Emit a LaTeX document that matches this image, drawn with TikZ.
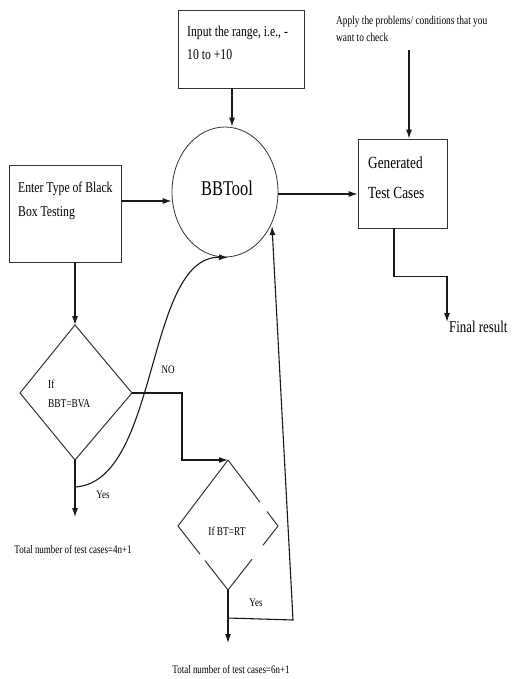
\documentclass[tikz,border=0pt]{standalone}
\usepackage{fontspec}
\setmainfont{Liberation Serif}
\newfontfamily\condf[FakeStretch=0.78]{Liberation Serif}
\usetikzlibrary{arrows.meta,calc,shapes.geometric}
\newcommand\myfbox{\condf\fontsize{15}{18}\selectfont}
\newcommand\myfsmall{\condf\fontsize{12}{14}\selectfont}
\newcommand\myfgen{\condf\fontsize{17}{20}\selectfont}
\newcommand\myftool{\condf\fontsize{21}{24}\selectfont}
\newcommand\myffin{\condf\fontsize{16.5}{20}\selectfont}
\newcommand\myflab{\condf\fontsize{11.5}{13}\selectfont}
\begin{document}
\begin{tikzpicture}[x=1pt,y=-1pt,
  box/.style={draw=black!80, line width=0.8pt, inner sep=0},
  txt/.style={inner sep=0, anchor=base west},
  ctxt/.style={inner sep=0, anchor=base},
  arr/.style={draw=black!90, line width=1.1pt, -{Latex[length=9pt,width=6pt]}},
  ln/.style={draw=black!90, line width=1.1pt},
  dia/.style={draw=black!80, line width=1pt}
]
\clip (0,0) rectangle (511,679);
\fill[white] (0,0) rectangle (511,679);

% boxes
\node[box, minimum width=126, minimum height=78] (input) at (241,49) {};
\node[txt, font=\myfbox] (in1) at (187,37) {Input the range, i.e., -};
\node[txt, font=\myfbox] (in2) at (187,60) {10 to +10};

\node[txt, font=\myfsmall] (ap1) at (336,25) {Apply the problems/ conditions that you};
\node[txt, font=\myfsmall] (ap2) at (336,42) {want to check};
\coordinate (apptop) at (409,50);

\node[box, minimum width=89, minimum height=89] (gen) at (402.5,183.5) {};
\node[txt, font=\myfgen] (g1) at (368,168) {Generated};
\node[txt, font=\myfgen] (g2) at (368,198) {Test Cases};

\node[box, minimum width=112, minimum height=97] (enter) at (65,213.5) {};
\node[txt, font=\myfbox] (e1t) at (18,193) {Enter Type of Black};
\node[txt, font=\myfbox] (e2t) at (18,216) {Box Testing};

\node[draw=black!80, line width=0.8pt, ellipse, inner sep=0, minimum width=106, minimum height=130] (tool) at (225,192) {};
\node[ctxt, font=\myftool] (tooltxt) at (227,195) {BBTool};

\coordinate (fr) at (447,322);
\node[txt, font=\myffin] (final) at (449,332) {Final result};

% diamond 1
\coordinate (T1) at (75,325);
\coordinate (L1) at (20,393);
\coordinate (R1) at (132,393);
\coordinate (B1) at (75,460);
\draw[dia] (T1) -- (R1) -- (B1) -- (L1) -- cycle;
\node[txt, font=\myfsmall] (if1) at (48,388) {If};
\node[txt, font=\myfsmall] (if2) at (48,407) {BBT=BVA};

% diamond 2 (broken edges)
\coordinate (T2) at (228,460);
\coordinate (L2) at (178,526);
\coordinate (R2) at (278,526);
\coordinate (B2) at (228,590);
\draw[dia] (T2) -- (L2) -- ($(L2)!0.44!(B2)$);
\draw[dia] ($(L2)!0.54!(B2)$) -- (B2) -- ($(B2)!0.48!(R2)$);
\draw[dia] ($(B2)!0.70!(R2)$) -- (R2) -- ($(R2)!0.22!(T2)$);
\draw[dia] ($(R2)!0.36!(T2)$) -- (T2);
\node[ctxt, font=\myfsmall] (if3) at (227,535) {If BT=RT};

% connectors
\draw[arr] ([xshift=-9pt]input.south) -- ([xshift=7pt]tool.north);
\draw[arr] (apptop) -- (apptop |- gen.north);
\draw[arr] ([yshift=12.5pt]enter.east) -- ([yshift=-9pt]tool.west);
\draw[arr] ([yshift=-2pt]tool.east) -- ([yshift=-2pt]tool.east -| gen.west);
\draw[arr] ([xshift=-8.5pt]gen.south) -- ++(0,48) -| (fr);
\draw[arr] ([xshift=10pt]enter.south) -- (T1);
\draw[arr] (R1) -- ++(50,0) |- (T2);

\coordinate (end1) at (75,517);
\draw[arr] (B1) -- (end1);
\coordinate (c1) at (75,487);
\draw[arr] (c1) .. controls (160,482) and (145,256) .. ([xshift=3pt]tool.south);
\node[ctxt, font=\myflab] (no) at (168,373) {NO};
\node[ctxt, font=\myflab] (yes1) at (103,498) {Yes};

\coordinate (end2) at (228,643);
\draw[arr] (B2) -- (end2);
\coordinate (c2) at (228,618);
\coordinate (c3) at (293,620);
\coordinate (t2) at (272,226);
\draw[arr] (c2) -- (c3) -- (t2);
\node[ctxt, font=\myflab] (yes2) at (256,606) {Yes};

\node[ctxt, font=\myflab] (tot1) at (73,553) {Total number of test cases=4n+1};
\node[ctxt, font=\myflab] (tot2) at (231,673) {Total number of test cases=6n+1};
\end{tikzpicture}
\end{document}
